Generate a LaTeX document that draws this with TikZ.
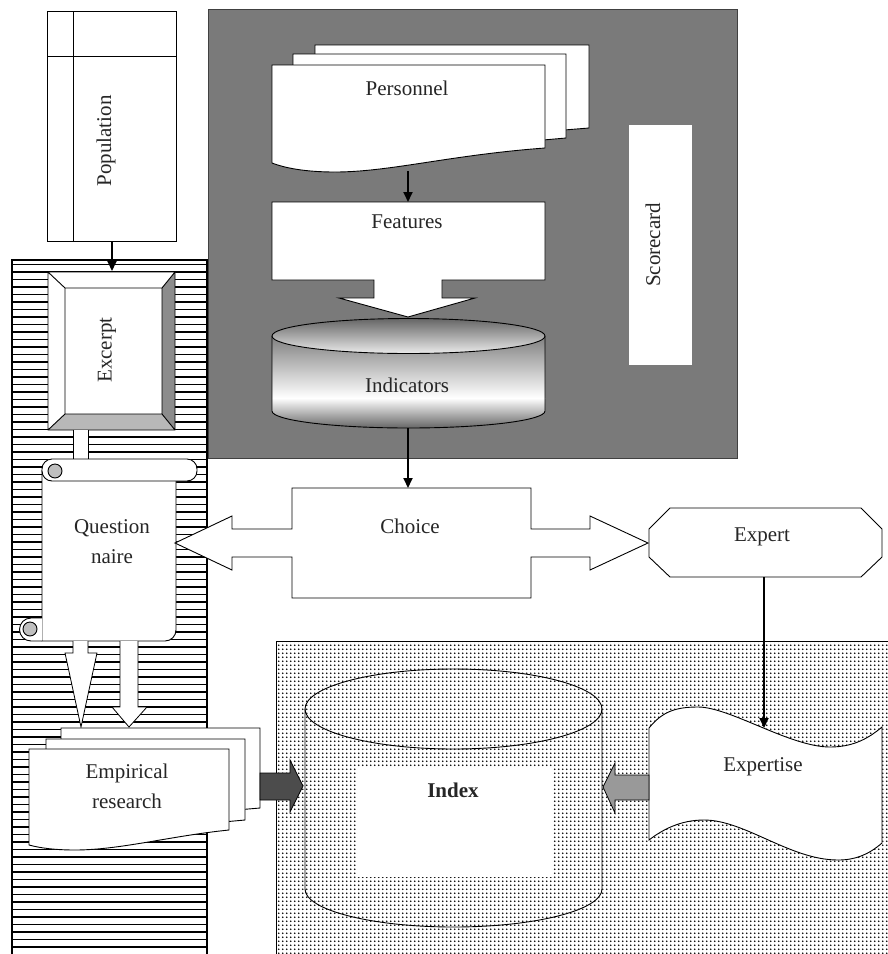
\documentclass[tikz,border=0pt]{standalone}
\usepackage{fontspec}
\setmainfont{Liberation Serif}
\usetikzlibrary{patterns,arrows.meta}
\pgfdeclarepatternformonly{lightdots}{\pgfpointorigin}{\pgfqpoint{4.2pt}{4.2pt}}{\pgfqpoint{4.2pt}{4.2pt}}{%
  \pgfpathcircle{\pgfqpoint{2.1pt}{2.1pt}}{1.1pt}\pgfusepath{fill}}
\begin{document}
\begin{tikzpicture}[x=1pt,y=-1pt,
  outl/.style={draw=black,line width=0.9pt},
  conn/.style={line width=1.8pt,-{Triangle[width=9pt,length=10pt]}},
  lbl/.style={font=\fontsize{21}{30}\selectfont, text=black!85, align=center, inner sep=0pt},
  blockarrow/.style={draw=black,line width=0.8pt,fill=white}]
\useasboundingbox (0,0) rectangle (888,954);
\fill[white] (0,0) rectangle (888,954);

% ---------- left striped panel
\begin{scope}
  \clip (12,260) rectangle (207,954);
  \foreach \yy in {264.5,272,...,956} \draw[line width=1.15pt] (12,\yy) -- (207,\yy);
\end{scope}
\draw[line width=1.2pt] (12,954) -- (12,260) (207,260) -- (207,954);
\draw[line width=2.2pt] (11.4,260) -- (207.6,260);

% ---------- dark panel
\fill[black!52] (208,9) rectangle (737,458);
\draw[line width=0.8pt,black!75] (208,9) rectangle (737,458);

% ---------- light dotted panel
\fill[pattern=lightdots,pattern color=black] (276,641) rectangle (888,954);
\draw[line width=1pt] (276,954) -- (276,641) -- (888,641);

% ---------- Population
\draw[outl,fill=white] (47,11) rectangle (176,241);
\draw[outl] (73,11) -- (73,241) (47,56) -- (176,56);
\node[lbl,rotate=90] (pop) at (106,141) {Population};
\coordinate (popS) at (112,241);

% ---------- Personnel (multi document)
\draw[outl,fill=white] (315,45) -- (589,45) -- (589,128) -- (315,150) -- cycle;
\draw[outl,fill=white] (293,54) -- (566,54) -- (566,138) -- (293,162) -- cycle;
\draw[outl,fill=white] (272,65) -- (545,65) -- (545,148)
   .. controls (450,155) and (390,172) .. (335,172)
   .. controls (305,172) and (285,168) .. (272,163) -- cycle;
\node[lbl] (pers) at (407,88) {Personnel};
\coordinate (persS) at (408,171);

% ---------- Features (down arrow callout)
\draw[outl,fill=white] (272,202) -- (545,202) -- (545,280) -- (442,280) -- (442,298)
   -- (475,298) -- (408,317) -- (339,298) -- (374,298) -- (374,280) -- (272,280) -- cycle;
\node[lbl] (feat) at (407,222) {Features};
\coordinate (featN) at (408,202);

% ---------- Indicators (shaded cylinder)
\shade[top color=black!50,bottom color=white] (272,336) rectangle (545,398);
\shade[top color=white,bottom color=black!60] (272,398) -- (272,411)
   arc[start angle=180,end angle=0,x radius=136.5,y radius=17] -- (545,398) -- cycle;
\draw[outl] (272,336) -- (272,411) arc[start angle=180,end angle=0,x radius=136.5,y radius=17] -- (545,336);
\draw[outl,top color=black!60,bottom color=black!8] (408.5,336) ellipse [x radius=136.5,y radius=17.5];
\node[lbl] (ind) at (407,385) {Indicators};
\coordinate (indS) at (408,428);

% ---------- Scorecard
\fill[white] (629,125) rectangle (692,365);
\node[lbl,rotate=90] (score) at (653,245) {Scorecard};

% ---------- Excerpt (bevel)
\fill[white] (48,272) -- (175,272) -- (162,288) -- (65,288) -- cycle;
\fill[white] (48,272) -- (65,288) -- (65,414) -- (48,430) -- cycle;
\fill[black!45] (175,272) -- (175,430) -- (162,414) -- (162,288) -- cycle;
\fill[black!28] (48,430) -- (175,430) -- (162,414) -- (65,414) -- cycle;
\fill[white] (65,288) rectangle (162,414);
\draw[outl] (48,272) rectangle (175,430) (65,288) rectangle (162,414)
   (48,272) -- (65,288) (175,272) -- (162,288) (48,430) -- (65,414) (175,430) -- (162,414);
\node[lbl,rotate=90] (exc) at (107,350) {Excerpt};
\coordinate (excN) at (112,271);

% ---------- link bar Excerpt -> Questionnaire
\fill[white] (73,430) rectangle (88,459);
\draw[outl] (73,430) -- (73,459) (88,430) -- (88,459);

% ---------- Questionnaire (scroll)
\draw[outl,fill=white] (42,470) -- (42,641) -- (165,641) arc[start angle=90,end angle=0,radius=11] -- (176,470);
\draw[outl,fill=white,rounded corners=10] (42,459) rectangle (197,481);
\draw[outl,fill=black!25] (55,471) circle (7);
\draw[outl,fill=white] (42,618) -- (31,618) arc[start angle=270,end angle=90,radius=11.5] -- (42,641);
\draw[outl,fill=black!25] (30,629) circle (7);
\node[lbl] (quest) at (112,542) {Question\\naire};

% ---------- block arrows Questionnaire -> Empirical research
\draw[blockarrow] (73,641) -- (73,653) -- (65,653) -- (81,727) -- (97,653) -- (88,653) -- (88,641);
\draw[blockarrow] (120,641) -- (120,707) -- (112,707) -- (129,727) -- (147,707) -- (138,707) -- (138,641);

% ---------- Empirical research (multi document)
\draw[outl,fill=white] (61,728) -- (260,728) -- (260,808) -- (61,825) -- cycle;
\draw[outl,fill=white] (46,739) -- (245,739) -- (245,820) -- (46,838) -- cycle;
\draw[outl,fill=white] (29,749) -- (229,749) -- (229,830)
   .. controls (170,836) and (120,850) .. (75,850)
   .. controls (55,850) and (40,848) .. (29,845) -- cycle;
\node[lbl] (emp) at (127,786) {Empirical\\research};

% ---------- Choice (left-right arrow callout)
\draw[outl,fill=white] (292,488) -- (531,488) -- (531,529) -- (590,529) -- (590,516) -- (648,543)
   -- (590,570) -- (590,557) -- (531,557) -- (531,598) -- (292,598) -- (292,557) -- (232,557)
   -- (232,570) -- (175,543) -- (232,516) -- (232,529) -- (292,529) -- cycle;
\node[lbl] (cho) at (410,526) {Choice};
\coordinate (choN) at (408,488);

% ---------- Expert (octagon)
\draw[outl,fill=white] (670,508) -- (861,508) -- (882,529) -- (882,557) -- (861,577)
   -- (670,577) -- (649,557) -- (649,529) -- cycle;
\node[lbl] (exp) at (762,537) {Expert};
\coordinate (expS) at (764,577);

% ---------- Index (cylinder)
\draw[outl] (305,709) -- (305,889) arc[start angle=180,end angle=0,x radius=148.5,y radius=38] -- (602,709);
\draw[outl] (453.5,709) ellipse [x radius=148.5,y radius=40];
\fill[white] (357,768) rectangle (553,877);
\node[lbl,font=\fontsize{21}{30}\selectfont\bfseries] (index) at (453,790) {Index};

% ---------- Expertise (punched tape)
\draw[outl,fill=white] (649,728) .. controls (662,712) and (675,707) .. (698,707)
   .. controls (730,707) and (790,747) .. (830,747)
   .. controls (855,747) and (870,737) .. (882,727) -- (882,843)
   .. controls (868,855) and (855,860) .. (838,860)
   .. controls (790,860) and (745,820) .. (704,820)
   .. controls (680,820) and (662,830) .. (649,840) -- cycle;
\node[lbl] (expi) at (763,767) {Expertise};
\coordinate (expiN) at (764,728);

% ---------- shaded block arrows into Index
\draw[line width=0.8pt,fill=black!70] (260,773) -- (290,773) -- (290,760) -- (303,786) -- (290,812) -- (290,800) -- (260,800) -- cycle;
\draw[line width=0.8pt,fill=black!40] (649,775) -- (615,775) -- (615,763) -- (603,787) -- (615,813) -- (615,800) -- (649,800) -- cycle;

% ---------- connectors
\draw[conn] (popS) -- (excN);
\draw[conn] (persS) -- (featN);
\draw[conn] (indS) -- (choN);
\draw[conn] (expS) -- (expiN);
\end{tikzpicture}
\end{document}
